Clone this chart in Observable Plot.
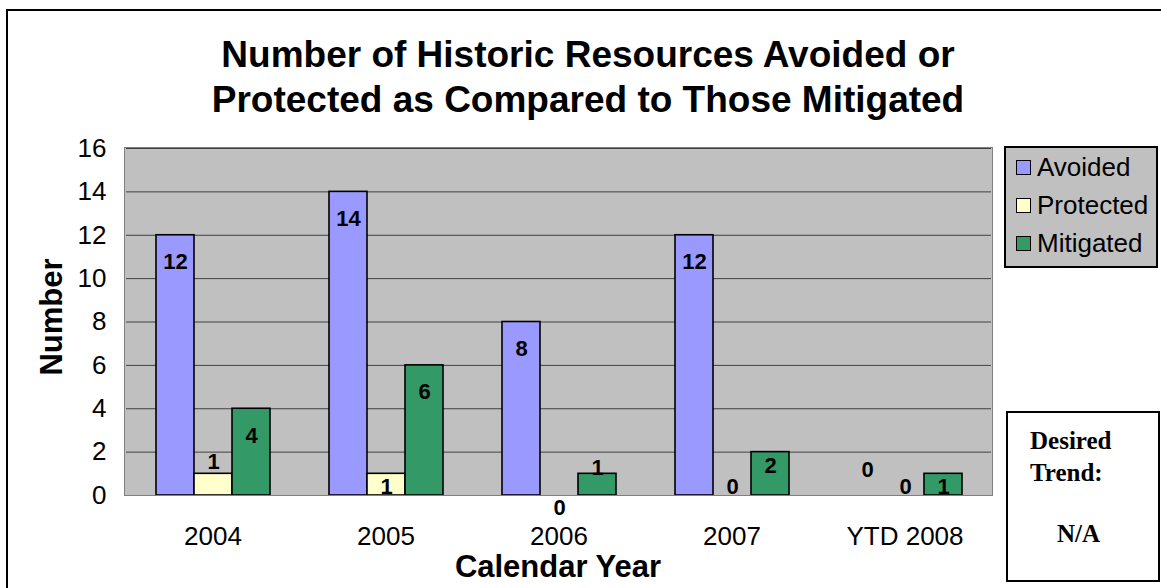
<!DOCTYPE html>
<html>
<head>
<meta charset="utf-8">
<script src="https://cdn.jsdelivr.net/npm/d3@7"></script>
<script src="https://cdn.jsdelivr.net/npm/@observablehq/plot@0.6"></script>
<style>
  html, body { margin: 0; padding: 0; background: #fff; overflow: hidden; }
  #wrap { position: relative; width: 1161px; height: 588px; overflow: hidden; font-family: "Liberation Sans", Arial, sans-serif; }
  #outer { position: absolute; left: 6px; top: 9px; width: 1300px; height: 700px; border-left: 2px solid #000; border-top: 2px solid #000; }
  #title { position: absolute; left: 0; width: 1176px; top: 32px; text-align: center; font-weight: bold; font-size: 37px; line-height: 45px; color: #000; }
  #plotbg { position: absolute; left: 125px; top: 148px; width: 867px; height: 347px; background: #c0c0c0; }
  #chart { position: absolute; left: 0; top: 0; }
  #plotborder { position: absolute; left: 124px; top: 147px; width: 867px; height: 347px; border: 1px solid #808080; pointer-events: none; }
  #ylabel { position: absolute; left: 52px; top: 317px; transform: translate(-50%, -50%) rotate(-90deg); font-weight: bold; font-size: 31px; white-space: nowrap; }
  #xlabel { position: absolute; left: 558px; top: 567px; transform: translate(-50%, -50%); font-weight: bold; font-size: 31px; white-space: nowrap; }
  #legend { position: absolute; left: 1004px; top: 146px; width: 150px; height: 118px; background: #c0c0c0; border: 2px solid #000; }
  .li { position: absolute; left: 10px; height: 30px; display: flex; align-items: center; font-size: 26px; }
  .sw { width: 13px; height: 13px; border: 1.5px solid #000; margin-right: 6px; }
  #trend { position: absolute; left: 1006px; top: 411px; width: 150px; height: 167px; border: 2px solid #000; background: #fff; font-family: "Liberation Serif", "Times New Roman", serif; font-weight: bold; font-size: 25px; }
  #trend div { position: absolute; white-space: nowrap; }
</style>
</head>
<body>
<div id="wrap">
  <div id="outer"></div>
  <div id="title">Number of Historic Resources Avoided or<br>Protected as Compared to Those Mitigated</div>
  <div id="plotbg"></div>
  <div id="chart"></div>
  <div id="plotborder"></div>
  <div id="ylabel">Number</div>
  <div id="xlabel">Calendar Year</div>
  <div id="legend"></div>
  <div id="trend">
    <div style="left:22px; top:14px;">Desired</div>
    <div style="left:22px; top:46px;">Trend:</div>
    <div style="left:49px; top:107px;">N/A</div>
  </div>
</div>
<script>
// ---- data ----
const years = ["2004", "2005", "2006", "2007", "YTD 2008"];
const seriesNames = ["Avoided", "Protected", "Mitigated"];
const avoided = [12, 14, 8, 12, 0];
const protectedVals = [1, 1, 0, 0, 0];
const mitigated = [4, 6, 1, 2, 1];
const colors = ["#9999ff", "#ffffcc", "#339966"];

const seriesValues = [avoided, protectedVals, mitigated];
const rows = [];
years.forEach((y, i) => {
  seriesNames.forEach((s, j) => rows.push({year: y, series: s, value: seriesValues[j][i]}));
});

// label placement (pixels relative to bar top), mimicking the original layout
function labelDy(d) {
  if (d.value >= 4) return 27;
  if (d.value === 2) return 14;
  if (d.series === "Avoided") return -26;
  if (d.series === "Protected") {
    if (d.value === 1) return d.year === "2004" ? -12 : 13;
    return d.year === "2006" ? 12 : -9;
  }
  return d.year === "2006" ? -6 : 13;
}
const dys = Array.from(new Set(rows.map(labelDy)));
const labelMarks = dys.map(dy => Plot.text(rows.filter(d => labelDy(d) === dy), {
  fx: "year", x: "series", y: "value", text: d => String(d.value), dy,
  fontSize: 22, fontWeight: "bold", fill: "#000"
}));

const chart = Plot.plot({
  width: 1161,
  height: 588,
  marginLeft: 125,
  marginRight: 169,
  marginTop: 148,
  marginBottom: 93,
  style: {fontFamily: "'Liberation Sans', Arial, sans-serif", fontSize: "26px", background: "transparent", color: "#000"},
  fx: {domain: years, padding: 0, axis: "bottom", tickSize: 0, tickPadding: 31, label: null},
  x: {domain: seriesNames, paddingInner: 0, paddingOuter: 0.75, axis: null},
  y: {domain: [0, 16], ticks: 8, tickSize: 0, tickPadding: 20, label: null},
  color: {domain: seriesNames, range: colors},
  marks: [
    Plot.gridY({ticks: 8, stroke: "#404040", strokeOpacity: 1, strokeWidth: 1}),
    Plot.barY(rows, {fx: "year", x: "series", y: "value", fill: "series", stroke: "#000", strokeWidth: 1.6}),
    ...labelMarks
  ]
});
document.getElementById("chart").appendChild(chart);

// legend
const legend = document.getElementById("legend");
seriesNames.forEach((s, j) => {
  const el = document.createElement("div");
  el.className = "li";
  el.style.top = (4 + j * 38) + "px";
  const sw = document.createElement("div");
  sw.className = "sw";
  sw.style.background = colors[j];
  el.appendChild(sw);
  el.appendChild(document.createTextNode(s));
  legend.appendChild(el);
});
</script>
</body>
</html>
